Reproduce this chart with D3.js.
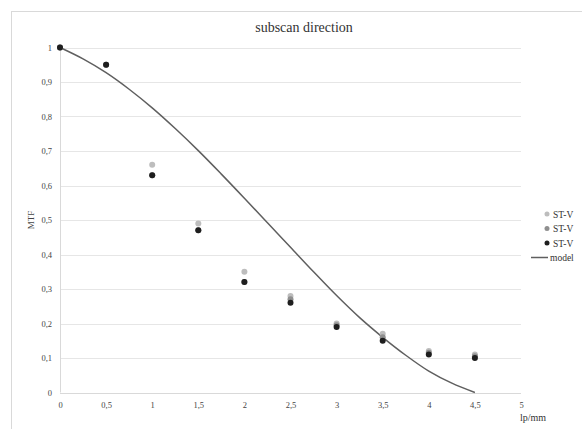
<!DOCTYPE html>
<html><head><meta charset="utf-8">
<script src="https://cdn.jsdelivr.net/npm/d3@7"></script>
<style>body{margin:0;background:#fff}svg{display:block}text{font-family:"Liberation Serif","DejaVu Serif",serif}</style>
</head><body>
<script>
const title = "subscan direction";
const xTicks = [0,0.5,1,1.5,2,2.5,3,3.5,4,4.5,5];
const yTicks = [0,0.1,0.2,0.3,0.4,0.5,0.6,0.7,0.8,0.9,1];
const xMeas = [0,0.5,1,1.5,2,2.5,3,3.5,4,4.5];
const seriesNames = ["ST-V","ST-V","ST-V"];
const s1 = [1,0.95,0.66,0.49,0.35,0.28,0.20,0.17,0.12,0.11];
const s2 = [1,0.95,0.63,0.47,0.32,0.27,0.195,0.16,0.115,0.105];
const s3 = [1,0.95,0.63,0.47,0.32,0.26,0.19,0.15,0.11,0.10];
const modelX = [0,0.25,0.5,0.75,1,1.25,1.5,1.75,2,2.25,2.5,2.75,3,3.25,3.5,3.75,4,4.25,4.5];
const modelY = [1,0.967,0.927,0.879,0.825,0.765,0.701,0.633,0.563,0.492,0.421,0.350,0.281,0.217,0.160,0.108,0.062,0.027,0];
const modelName = "model";

const W=582,H=429;
const svg=d3.select("body").append("svg").attr("width",W).attr("height",H);
svg.append("rect").attr("x",11.5).attr("y",11.5).attr("width",W+20).attr("height",H+20)
  .attr("fill","#fff").attr("stroke","#d9d9d9");

const x=d3.scaleLinear().domain([0,5]).range([60,521]);
const y=d3.scaleLinear().domain([0,1]).range([392.5,47.5]);

svg.append("g").selectAll("line").data(yTicks).join("line")
  .attr("x1",x(0)).attr("x2",x(5)).attr("y1",d=>Math.round(y(d))+0.5).attr("y2",d=>Math.round(y(d))+0.5)
  .attr("stroke","#e6e6e6").attr("stroke-width",1);
svg.append("line").attr("x1",x(0)+0.5).attr("x2",x(0)+0.5).attr("y1",y(1)).attr("y2",y(0))
  .attr("stroke","#d9d9d9");
svg.append("line").attr("x1",x(0)).attr("x2",x(5)).attr("y1",Math.round(y(0))+0.5).attr("y2",Math.round(y(0))+0.5)
  .attr("stroke","#d9d9d9");

const fmt=d=>String(+d.toFixed(1)).replace(".",",");
const yAxis=d3.axisLeft(y).tickValues(yTicks).tickSize(0).tickPadding(8).tickFormat(fmt);
const gy=svg.append("g").attr("transform",`translate(${x(0)},0)`).call(yAxis);
gy.select(".domain").remove();
gy.selectAll("text").attr("font-size",8.5).attr("fill","#444").style("font-family",'"Liberation Serif",serif');
const xAxis=d3.axisBottom(x).tickValues(xTicks).tickSize(0).tickPadding(9).tickFormat(fmt);
const gx=svg.append("g").attr("transform",`translate(0,${y(0)})`).call(xAxis);
gx.select(".domain").remove();
gx.selectAll("text").attr("font-size",8.5).attr("fill","#444").style("font-family",'"Liberation Serif",serif');

svg.append("text").attr("x",304).attr("y",32).attr("text-anchor","middle").attr("font-size",14).attr("fill","#333").text(title);
svg.append("text").attr("transform",`translate(34,${y(0.5)}) rotate(-90)`).attr("text-anchor","middle")
  .attr("font-size",9).attr("fill","#444").text("MTF");
svg.append("text").attr("x",x(5)-1).attr("y",421).attr("font-size",10).attr("fill","#333").text("lp/mm");

const line=d3.line().x(d=>x(d[0])).y(d=>y(d[1])).curve(d3.curveCatmullRom.alpha(0.5));
svg.append("path").datum(modelX.map((v,i)=>[v,modelY[i]])).attr("d",line)
  .attr("fill","none").attr("stroke","#5f5f5f").attr("stroke-width",1.5);

const series=[{v:s1,c:"#bdbdbd"},{v:s2,c:"#8f8f8f"},{v:s3,c:"#1e1e1e"}];
series.forEach(s=>{
  svg.append("g").selectAll("circle").data(xMeas.map((v,i)=>[v,s.v[i]])).join("circle")
    .attr("cx",d=>x(d[0])).attr("cy",d=>y(d[1])).attr("r",3).attr("fill",s.c);
});

const ly=[214,228.5,243];
series.forEach((s,i)=>{
  svg.append("circle").attr("cx",547).attr("cy",ly[i]).attr("r",2.5).attr("fill",s.c);
  svg.append("text").attr("x",553).attr("y",ly[i]+3.5).attr("font-size",9.5).attr("fill","#333").text(seriesNames[i]);
});
svg.append("line").attr("x1",531).attr("x2",548).attr("y1",257.5).attr("y2",257.5).attr("stroke","#5f5f5f").attr("stroke-width",1.5);
svg.append("text").attr("x",550).attr("y",261).attr("font-size",9.5).attr("fill","#333").text(modelName);
</script>
</body></html>
